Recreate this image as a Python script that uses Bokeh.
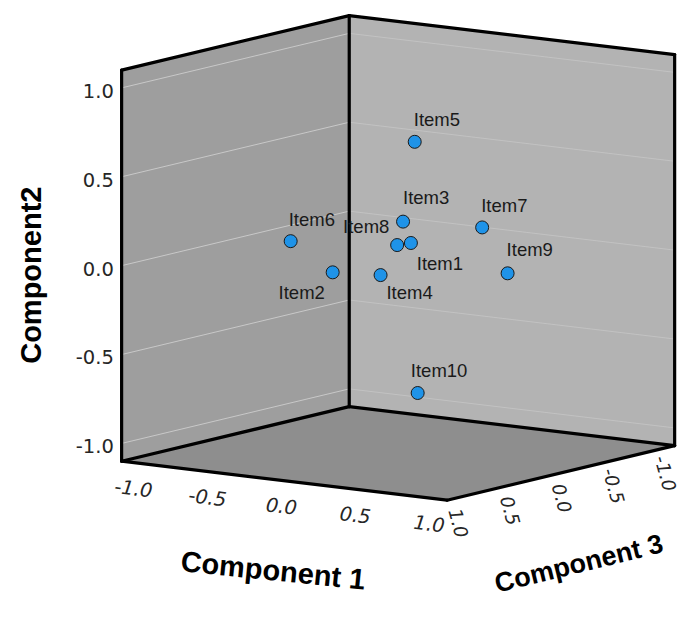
import numpy as np
from bokeh.plotting import figure
from bokeh.models import Range1d
from bokeh.core.properties import value
from bokeh.embed import file_html
from bokeh.resources import INLINE

# ---- data (component loadings) ----
items = ["Item1", "Item2", "Item3", "Item4", "Item5",
         "Item6", "Item7", "Item8", "Item9", "Item10"]
comp1 = [0.506, 0.117, 0.383, 0.301, 0.252, -0.097, 0.638, 0.483, 0.810, 0.272]
comp2 = [0.218, 0.042, 0.312, 0.017, 0.706, 0.210, 0.249, 0.218, 0.008, -0.705]
comp3 = [0.600, 0.800, 0.500, 0.600, 0.200, 0.900, 0.100, 0.700, 0.100, 0.200]
tick_values = [-1.0, -0.5, 0.0, 0.5, 1.0]
tick_labels = ["-1.0", "-0.5", "0.0", "0.5", "1.0"]
axis_titles = ["Component 1", "Component2", "Component 3"]

# ---- projection (oblique 3D view, in reference pixel units) ----
LIM = 1.1
OX, OY = 407.0, 264.25
UX = (151.4, 18.2)
UY = 182.5
UZ = (-105.9, 25.45)


def proj(x, y, z):
    x = np.asarray(x, float); y = np.asarray(y, float); z = np.asarray(z, float)
    sx = OX + UX[0] * x + UZ[0] * z
    sy = OY + UX[1] * x - UY * y + UZ[1] * z
    return sx, -sy


W, H = 679, 601
p = figure(width=W, height=H, x_range=Range1d(0, 695), y_range=Range1d(-617, 0),
           output_backend="svg", toolbar_location=None, min_border=0,
           x_axis_type=None, y_axis_type=None)
p.grid.visible = False
p.outline_line_color = None
p.background_fill_color = "white"
p.border_fill_color = "white"

L = LIM
corners = {
    "A": (-L, L, L), "B": (-L, L, -L), "C": (L, L, -L),
    "D": (-L, -L, L), "E": (-L, -L, -L), "F": (L, -L, -L), "G": (L, -L, L),
}


def poly(names):
    xs, ys, zs = zip(*[corners[n] for n in names])
    return proj(xs, ys, zs)


# faces
for names, col in [("ABED", "#9e9e9e"), ("BCFE", "#b3b3b3"), ("DEFG", "#8e8e8e")]:
    sx, sy = poly(names)
    p.patch(list(sx), list(sy), fill_color=col, line_color=None)

# gridlines on walls
for v in tick_values:
    sx, sy = proj([-L, -L], [v, v], [L, -L])
    p.line(list(sx), list(sy), line_color="#c8c8c8", line_width=1)
    sx, sy = proj([-L, L], [v, v], [-L, -L])
    p.line(list(sx), list(sy), line_color="#c2c2c2", line_width=1)

# box edges
for a, b in ["AB", "BC", "AD", "BE", "CF", "DE", "EF", "DG", "GF"]:
    sx, sy = poly(a + b)
    p.line(list(sx), list(sy), line_color="black", line_width=3.2, line_cap="round")

TICK_FONT = value("DejaVu Sans")
LAB_FONT = value("Liberation Sans")
TICK_SIZE = "19.5px"

# Component 2 tick labels (left edge)
sx, sy = proj([-L] * 5, tick_values, [L] * 5)
p.text(x=[116] * 5, y=list(sy - 3), text=tick_labels, text_font=TICK_FONT,
       text_font_size=TICK_SIZE, text_color="#262626", text_align="right",
       text_baseline="middle")

# Component 1 tick labels (front floor edge)
sx, sy = proj(tick_values, [-L] * 5, [L] * 5)
p.text(x=list(sx - 3), y=list(sy - 26), text=tick_labels, text_font=TICK_FONT,
       text_font_size=TICK_SIZE, text_font_style="italic", text_color="#262626",
       text_align="center", text_baseline="middle", angle=-0.12)

# Component 3 tick labels (right floor edge)
sx, sy = proj([L] * 5, [-L] * 5, tick_values)
p.text(x=list(sx + 1), y=list(sy - 26), text=tick_labels, text_font=TICK_FONT,
       text_font_size="18.5px", text_font_style="italic", text_color="#262626",
       text_align="center", text_baseline="middle", angle=-1.3)

# axis titles
TITLE_SIZE = "29px"
p.text(x=[279], y=[-585], text=[axis_titles[0]], text_font=LAB_FONT,
       text_font_size=TITLE_SIZE, text_font_style="bold", text_color="black",
       text_align="center", text_baseline="middle", angle=-0.1)
p.text(x=[31], y=[-282], text=[axis_titles[1]], text_font=LAB_FONT,
       text_font_size=TITLE_SIZE, text_font_style="bold", text_color="black",
       text_align="center", text_baseline="middle", angle=np.pi / 2)
p.text(x=[592], y=[-578], text=[axis_titles[2]], text_font=LAB_FONT,
       text_font_size="27px", text_font_style="bold", text_color="black",
       text_align="center", text_baseline="middle", angle=0.24)

# points
px, py = proj(comp1, comp2, comp3)
p.scatter(list(px), list(py), size=13, fill_color="#1f93e8", line_color="#1a1a1a",
          line_width=1)

# item labels (screen offsets from marker, alignment)
offsets = {
    "Item1": (6, 21, "left"), "Item2": (-8, 21, "right"), "Item3": (0, -25, "left"),
    "Item4": (6, 18, "left"), "Item5": (-1, -23, "left"), "Item6": (-2, -22, "left"),
    "Item7": (-1, -23, "left"), "Item8": (-8, -19, "right"), "Item9": (-1, -24, "left"),
    "Item10": (-7, -23, "left"),
}
for name, x0, y0 in zip(items, px, py):
    dx, dy, al = offsets[name]
    p.text(x=[x0 + dx], y=[y0 - dy], text=[name], text_font=LAB_FONT,
           text_font_size="18.5px", text_color="#1a1a1a", text_align=al,
           text_baseline="middle")

open("out.html", "w").write(file_html(p, INLINE))
